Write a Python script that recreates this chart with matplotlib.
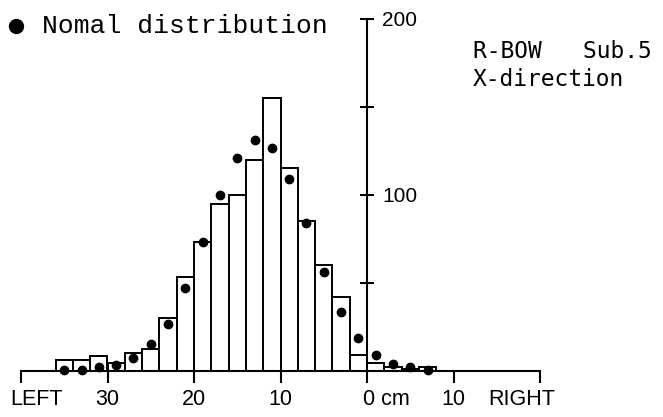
import numpy as np
import matplotlib
matplotlib.use("Agg")
import matplotlib.pyplot as plt
from matplotlib.transforms import ScaledTranslation

# histogram bins (cm, right is positive, left negative), 2 cm wide
bin_left = [-36, -34, -32, -30, -28, -26, -24, -22, -20, -18, -16,
            -14, -12, -10, -8, -6, -4, -2, 0, 2, 4, 6]
counts = [6, 6, 8, 4, 10, 12, 30, 53, 73, 95, 100,
          120, 155, 115, 85, 60, 42, 9, 4, 2, 1, 2]

# normal distribution dots at bin centres
dot_x = [-35, -33, -31, -29, -27, -25, -23, -21, -19, -17, -15,
         -13, -11, -9, -7, -5, -3, -1, 1, 3, 5, 7]
dot_y = [0.4, 0.5, 2, 3.3, 7, 15, 26.5, 47, 73, 100, 121,
         131, 126.5, 109, 84, 56, 33.5, 18.5, 9, 3.8, 2.2, 0.3]

xticks = [-40, -30, -20, -10, 0, 10, 20]
xticklabels = ["LEFT", "30", "20", "10", "0 cm", "10", "RIGHT"]
yticks = [50, 100, 150, 200]
yticklabels = ["", "100", "", "200"]

W, H = 663, 417
fig = plt.figure(figsize=(W / 100, H / 100), dpi=100)
ax = fig.add_axes([21 / W, (H - 370.5) / H, 519 / W, 351.5 / H])

ax.bar(bin_left, counts, width=2, align="edge", color="white",
       edgecolor="black", linewidth=1.4, zorder=2)
ax.plot(dot_x, dot_y, "o", color="black", ms=6, zorder=4, clip_on=False)

ax.set_xlim(-40, 20)
ax.set_ylim(0, 200)

for s in ["top", "left"]:
    ax.spines[s].set_visible(False)
ax.spines["bottom"].set_linewidth(1.5)
ax.spines["right"].set_position(("data", 0))
ax.spines["right"].set_linewidth(1.5)
ax.spines["right"].set_zorder(3)

ax.set_xticks(xticks)
ax.set_xticklabels(xticklabels, fontsize=15.5, family="Liberation Sans")
ax.tick_params(axis="x", direction="out", length=8.5, width=1.5, pad=5)

ax.yaxis.tick_right()
ax.set_yticks(yticks)
ax.set_yticklabels(yticklabels, fontsize=15, family="Liberation Sans")
ax.tick_params(axis="y", direction="inout", length=9.5, width=1.5, pad=6)

# shift a few tick labels like in the original lettering
shifts = {0: 15, 4: 19, 6: -18}
for i, lab in enumerate(ax.get_xticklabels()):
    if i in shifts:
        lab.set_transform(lab.get_transform() +
                          ScaledTranslation(shifts[i] / 100, 0, fig.dpi_scale_trans))

# legend-like note and title text
fig.add_artist(plt.Line2D([15.5 / W], [1 - 25.5 / H], marker="o", color="black",
                          ms=10, transform=fig.transFigure))
fig.text(42 / W, 1 - 33 / H, "Nomal distribution", family="Liberation Mono",
         fontsize=19, va="baseline")
fig.text(473 / W, 1 - 58 / H, "R-BOW   Sub.5", family="DejaVu Sans Mono",
         fontsize=16.5, va="baseline")
fig.text(473 / W, 1 - 86 / H, "X-direction", family="DejaVu Sans Mono",
         fontsize=16.5, va="baseline")

fig.savefig("out.png", dpi=100)
